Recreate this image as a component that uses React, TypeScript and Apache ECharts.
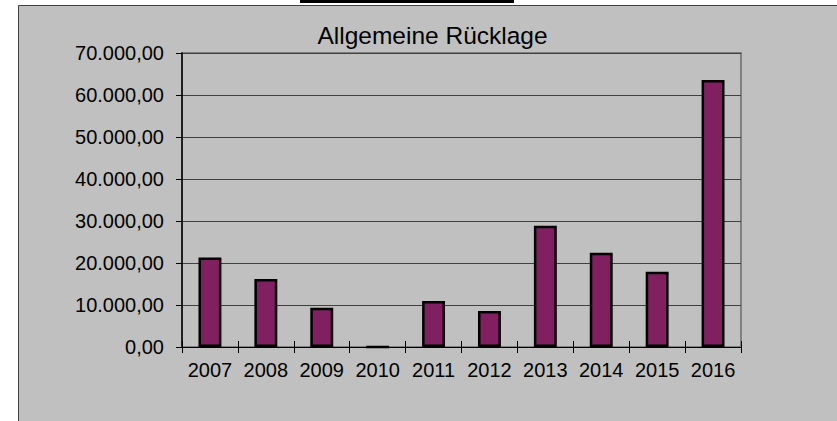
import React, { useEffect, useRef } from "react";
import * as echarts from "echarts";

const years = ["2007", "2008", "2009", "2010", "2011", "2012", "2013", "2014", "2015", "2016"];
const reserve = [21300, 16200, 9350, 0, 10950, 8550, 28850, 22450, 17900, 63600];
const titleText = "Allgemeine Rücklage";

function fmtDE(v: number): string {
  const fixed = Math.abs(v).toFixed(2);
  const [intPart, dec] = fixed.split(".");
  const grouped = intPart.replace(/\B(?=(\d{3})+(?!\d))/g, ".");
  return (v < 0 ? "-" : "") + grouped + "," + dec;
}

export default function App() {
  const ref = useRef<HTMLDivElement>(null);
  useEffect(() => {
    if (!ref.current) return;
    const chart = echarts.init(ref.current, undefined, { renderer: "svg" });
    const font = "'Liberation Sans', Arial, sans-serif";
    chart.setOption({
      animation: false,
      backgroundColor: "#ffffff",
      graphic: [
        {
          type: "rect",
          z: -10,
          silent: true,
          shape: { x: 18.5, y: 5.5, width: 830, height: 430 },
          style: { fill: "#c0c0c0", stroke: "#404040", lineWidth: 1 },
        },
        {
          type: "rect",
          z: -5,
          silent: true,
          shape: { x: 300, y: 0, width: 214, height: 3 },
          style: { fill: "#000000" },
        },
        {
          type: "text",
          z: 10,
          x: 432.5,
          y: 48,
          style: {
            text: titleText,
            fill: "#000000",
            font: "24.5px 'Liberation Sans', Arial, sans-serif",
            align: "center",
            verticalAlign: "bottom",
          },
        },
      ],
      grid: {
        left: 182,
        top: 53,
        right: 96,
        bottom: 74,
        show: true,
        borderColor: "#808080",
        borderWidth: 2,
        backgroundColor: "transparent",
      },
      xAxis: [
        {
          type: "category",
          data: years,
          position: "bottom",
          z: 5,
          axisLine: { show: true, lineStyle: { color: "#000000", width: 1 } },
          axisTick: { show: true, interval: 0, length: 6, inside: false, lineStyle: { color: "#000000" } },
          axisLabel: { color: "#000000", fontSize: 20, fontFamily: font, margin: 13, interval: 0 },
          splitLine: { show: false },
        },
        {
          type: "category",
          data: years,
          position: "bottom",
          axisLine: { show: false },
          axisTick: { show: true, interval: 0, length: 6, inside: true, lineStyle: { color: "#000000" } },
          axisLabel: { show: false },
          splitLine: { show: false },
        },
      ],
      yAxis: {
        type: "value",
        min: 0,
        max: 70000,
        interval: 10000,
        axisLine: { show: true, lineStyle: { color: "#000000", width: 1.5 } },
        axisTick: { show: true, length: 6, lineStyle: { color: "#000000" } },
        axisLabel: {
          color: "#000000",
          fontSize: 20,
          fontFamily: font,
          margin: 18,
          formatter: (v: number) => fmtDE(v),
        },
        splitLine: { show: true, lineStyle: { color: "#404040", width: 1 } },
      },
      series: [
        {
          type: "bar",
          data: reserve,
          barWidth: "41%",
          itemStyle: { color: "#802060", borderColor: "#000000", borderWidth: 2.5 },
        },
      ],
    });
    return () => chart.dispose();
  }, []);
  return (
    <div
      ref={ref}
      style={{ position: "fixed", left: 0, top: 0, width: 837, height: 421 }}
    />
  );
}
